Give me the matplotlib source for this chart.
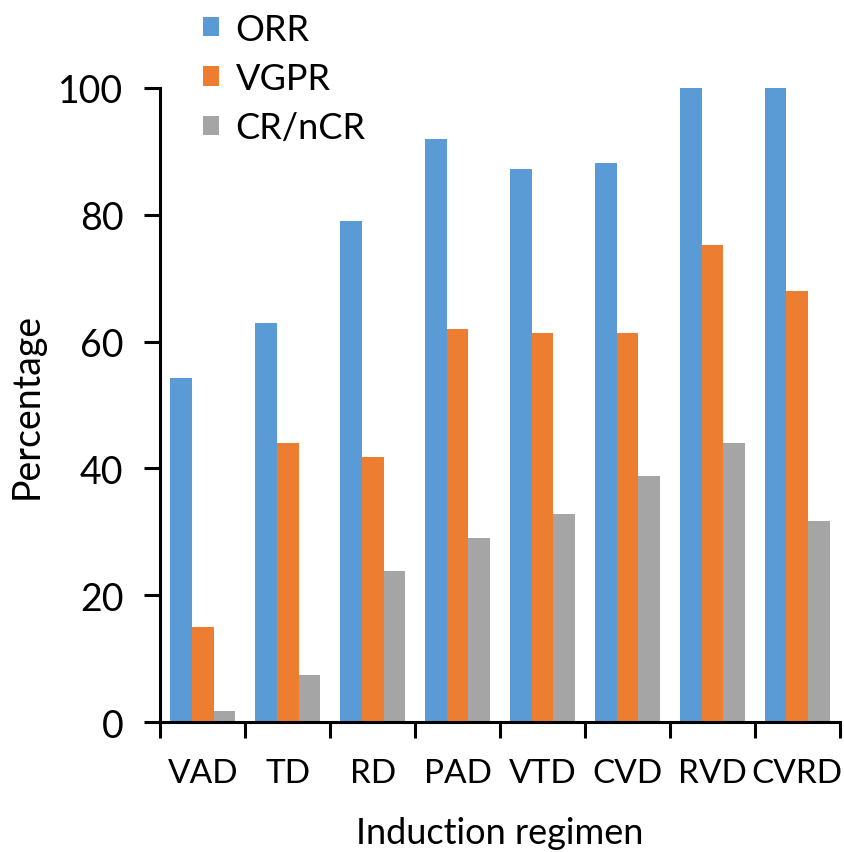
"""
Response rates by induction regimen (grouped bars)
"""

import numpy as np
import matplotlib.pyplot as plt

regimens = ['VAD', 'TD', 'RD', 'PAD', 'VTD', 'CVD', 'RVD', 'CVRD']
orr = [54.3, 63, 79, 91.9, 87.2, 88.1, 100, 100]
vgpr = [15.1, 44.0, 41.8, 62, 61.4, 61.4, 75.2, 67.9]
cr_ncr = [1.8, 7.5, 23.9, 29.0, 32.9, 38.8, 44.0, 31.8]

series_names = ['ORR', 'VGPR', 'CR/nCR']
colors = ['#5B9BD5', '#ED7D31', '#A5A5A5']

plt.rcParams['font.family'] = ['Lato', 'DejaVu Sans']

fig = plt.figure(figsize=(8.44, 8.53), dpi=100)
ax = fig.add_axes([0.19, 0.152, 0.805, 0.744])

x = np.arange(len(regimens))
width = 0.255
for i, (vals, name, color) in enumerate(zip([orr, vgpr, cr_ncr], series_names, colors)):
    ax.bar(x + (i - 1) * width, vals, width, color=color, label=name)

ax.set_xlim(-0.5, len(regimens) - 0.5)
ax.set_ylim(0, 100)
ax.set_yticks(range(0, 101, 20))

# ticks sit between categories, labels under the centres
ax.set_xticks(np.arange(-0.5, len(regimens), 1.0))
ax.set_xticklabels([])
ax.set_xticks(x, minor=True)
ax.set_xticklabels(regimens, minor=True)
ax.tick_params(axis='x', which='minor', length=0, pad=26, labelsize=24)
ax.tick_params(axis='x', which='major', direction='out', length=11.5, width=2.2)
ax.tick_params(axis='y', direction='out', length=11.5, width=2.2, labelsize=27, pad=15)

for side in ['top', 'right']:
    ax.spines[side].set_visible(False)
for side in ['left', 'bottom']:
    ax.spines[side].set_linewidth(2.2)

ax.set_xlabel('Induction regimen', fontsize=26, labelpad=20)
ax.set_ylabel('Percentage', fontsize=27, labelpad=10)

fig.legend(loc='upper left', bbox_to_anchor=(0.2405, 0.984), frameon=False,
           fontsize=26, handlelength=0.45, handleheight=0.45, handletextpad=0.45,
           labelspacing=0.45, borderpad=0, borderaxespad=0)

fig.savefig('out.png', dpi=100)
